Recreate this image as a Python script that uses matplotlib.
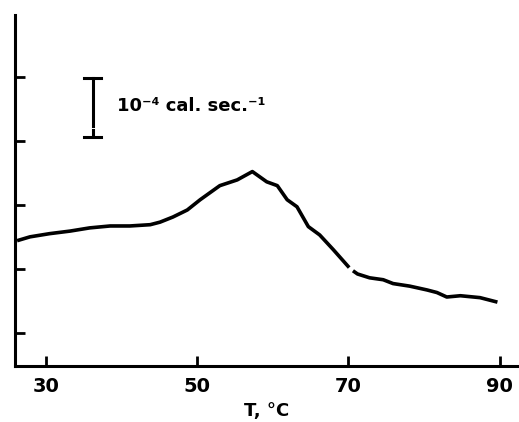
import numpy as np
import matplotlib
matplotlib.use("Agg")
import matplotlib.pyplot as plt

# heat flow trace (T in deg C, signal in arbitrary units)
temp = [26.2, 27.9, 30.5, 33.2, 35.8, 38.5, 41.1, 43.8, 45.1, 46.8, 48.7,
        50.4, 53.0, 55.3, 57.3, 59.2, 60.6, 61.9, 63.2, 64.7, 66.2, 68.0,
        69.8, 70.1, 70.6, 71.2, 72.8, 74.6, 75.9, 78.1, 80.4, 81.7, 83.0,
        84.8, 87.4, 89.7]
signal = [2.44, 2.50, 2.55, 2.59, 2.64, 2.67, 2.67, 2.69, 2.73, 2.81, 2.92,
          3.08, 3.30, 3.39, 3.52, 3.36, 3.30, 3.08, 2.97, 2.66, 2.53, 2.30,
          2.06, 2.02, 1.97, 1.92, 1.86, 1.83, 1.77, 1.73, 1.67, 1.63, 1.56,
          1.58, 1.55, 1.48]

xticks = [30, 50, 70, 90]
yticks = [1, 2, 3, 4, 5]

# scale bar: 10^-4 cal/sec
bar_T = 36.2
bar_lo = 4.06
bar_hi = 4.98
bar_label = "10⁻⁴ cal. sec.⁻¹"

fig = plt.figure(figsize=(5.19, 4.22), dpi=100)
ax = fig.add_axes([0.029, 0.133, 0.971, 0.832])

# curve has a small break near 70 C
brk = 24
ax.plot(temp[:brk], signal[:brk], color="black", lw=2.6, solid_capstyle="butt")
ax.plot(temp[brk:], signal[brk:], color="black", lw=2.6, solid_capstyle="butt")

# scale bar with caps
ax.plot([bar_T, bar_T], [bar_hi, bar_lo + 0.17], color="black", lw=2.2)
ax.plot([bar_T, bar_T], [bar_lo + 0.03, bar_lo + 0.11], color="black", lw=2.2)
ax.plot([bar_T - 1.1, bar_T + 1.1], [bar_hi, bar_hi], color="black", lw=2.2)
ax.plot([bar_T - 1.1, bar_T + 1.1], [bar_lo, bar_lo], color="black", lw=2.2)
ax.text(bar_T + 3.2, (bar_hi + bar_lo) / 2 + 0.03, bar_label, fontsize=13,
        fontweight="bold", va="center", ha="left")

ax.set_xlim(25.93, 92.55)
ax.set_ylim(0.484, 5.97)

ax.spines["top"].set_visible(False)
ax.spines["right"].set_visible(False)
ax.spines["left"].set_linewidth(2.2)
ax.spines["bottom"].set_linewidth(2.2)

ax.set_xticks(xticks)
ax.set_xticklabels([str(t) for t in xticks], fontsize=14, fontweight="bold")
ax.set_yticks(yticks)
ax.set_yticklabels([])
ax.tick_params(axis="both", direction="in", length=7, width=2)
ax.tick_params(axis="x", pad=8)

ax.set_xlabel("T, °C", fontsize=13, fontweight="bold", labelpad=4)

fig.savefig("out.png", dpi=100)
